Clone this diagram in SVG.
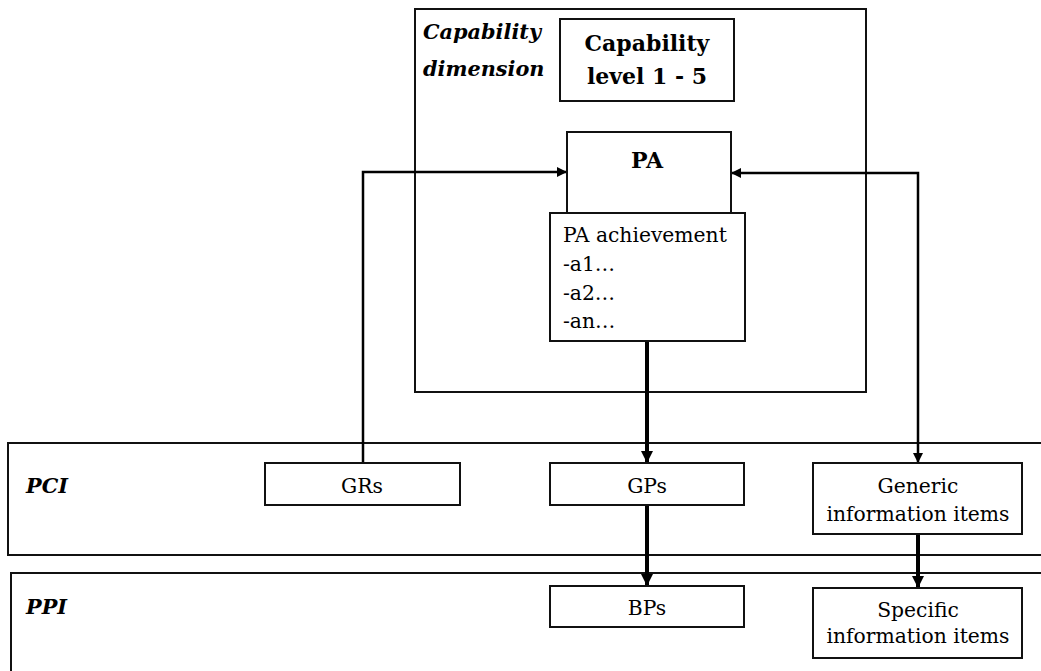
<svg xmlns="http://www.w3.org/2000/svg" width="1041" height="671" viewBox="0 0 1041 671">
  <defs>
    <marker id="head" viewBox="0 0 10 10" refX="10" refY="5" markerWidth="10" markerHeight="10" markerUnits="userSpaceOnUse" orient="auto-start-reverse">
      <path d="M0,0 L10,5 L0,10 Z" fill="#000"/>
    </marker>
    <marker id="head-big" viewBox="0 0 12 12" refX="12" refY="6" markerWidth="12" markerHeight="12" markerUnits="userSpaceOnUse" orient="auto">
      <path d="M0,0 L12,6 L0,12 Z" fill="#000"/>
    </marker>
    <style>
      .box { fill: #fff; stroke: #111; stroke-width: 2; }
      .frame { fill: none; stroke: #111; stroke-width: 2; }
      .txt { font-family: "DejaVu Serif", "Liberation Serif", serif; font-size: 20.3px; fill: #000; }
      .bold { font-family: "DejaVu Serif", "Liberation Serif", serif; font-size: 22px; font-weight: bold; fill: #000; }
      .label { font-family: "DejaVu Serif", "Liberation Serif", serif; font-size: 20.8px; font-weight: bold; font-style: italic; fill: #000; }
      .mid { text-anchor: middle; }
      .wire { fill: none; stroke: #000; stroke-width: 2.5; }
      .thick { fill: none; stroke: #000; stroke-width: 4; }
    </style>
  </defs>
  <rect width="1041" height="671" fill="#fff"/>

  <!-- Layers -->
  <g id="capability-dimension">
    <rect class="frame" x="415" y="9" width="451" height="383"/>
    <text class="label" x="423" y="39">Capability</text>
    <text class="label" x="423" y="76">dimension</text>
  </g>
  <g id="pci-layer">
    <rect class="frame" x="8" y="443" width="1040" height="112"/>
    <text class="label" x="26" y="493" font-size="23.5">PCI</text>
  </g>
  <g id="ppi-layer">
    <rect class="frame" x="11" y="573" width="1040" height="110"/>
    <text class="label" x="26" y="614" font-size="23.5">PPI</text>
  </g>

  <!-- Connectors -->
  <g id="connectors">
    <path class="wire" d="M363,463 V172 H567" marker-end="url(#head)"/>
    <path class="wire" d="M731,173 H918 V463" marker-start="url(#head)" marker-end="url(#head)"/>
    <path class="thick" d="M647,341 V463" marker-end="url(#head-big)"/>
    <path class="thick" d="M647,505 V586" marker-end="url(#head-big)"/>
    <path class="thick" d="M918,534 V588" marker-end="url(#head-big)"/>
  </g>

  <!-- Nodes -->
  <g id="capability-level">
    <rect class="box" x="560" y="19" width="174" height="82"/>
    <text class="bold mid" x="647" y="51">Capability</text>
    <text class="bold mid" x="647" y="84">level 1 - 5</text>
  </g>
  <g id="pa">
    <rect class="box" x="567" y="132" width="164" height="81"/>
    <text class="bold mid" x="647" y="168">PA</text>
  </g>
  <g id="pa-achievement">
    <rect class="box" x="550" y="213" width="195" height="128"/>
    <text class="txt" x="563" y="242">PA achievement</text>
    <text class="txt" x="563" y="271">-a1…</text>
    <text class="txt" x="563" y="300">-a2…</text>
    <text class="txt" x="563" y="328">-an…</text>
  </g>
  <g id="grs">
    <rect class="box" x="265" y="463" width="195" height="42"/>
    <text class="txt mid" x="362" y="493">GRs</text>
  </g>
  <g id="gps">
    <rect class="box" x="550" y="463" width="194" height="42"/>
    <text class="txt mid" x="647" y="493">GPs</text>
  </g>
  <g id="generic-items">
    <rect class="box" x="813" y="463" width="209" height="71"/>
    <text class="txt mid" x="918" y="493">Generic</text>
    <text class="txt mid" x="918" y="521">information items</text>
  </g>
  <g id="bps">
    <rect class="box" x="550" y="586" width="194" height="41"/>
    <text class="txt mid" x="647" y="615">BPs</text>
  </g>
  <g id="specific-items">
    <rect class="box" x="813" y="588" width="209" height="70"/>
    <text class="txt mid" x="918" y="617">Specific</text>
    <text class="txt mid" x="918" y="643">information items</text>
  </g>
</svg>
